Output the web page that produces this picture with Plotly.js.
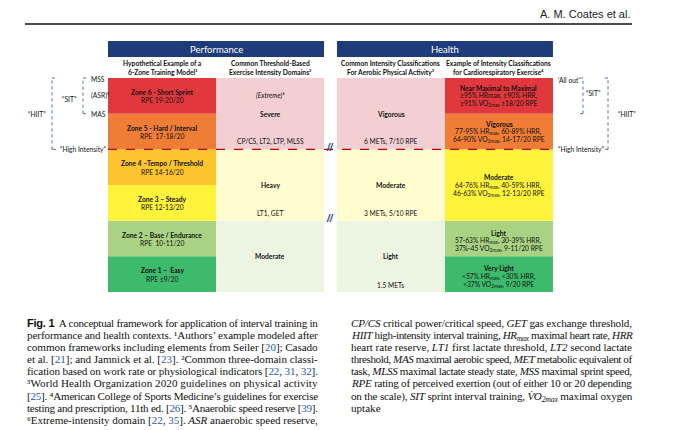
<!DOCTYPE html>
<html><head><meta charset="utf-8">
<script src="https://cdn.plot.ly/plotly-3.0.1.min.js"></script>
<style>html,body{margin:0;padding:0;background:#fff}#chart{width:680px;height:430px}</style>
</head><body><div id="chart"></div>
<script>
// ---------- DATA (zone units, bottom = 0, top = 6) ----------
const zoneTitles = ["Zone 1 –  Easy","Zone 2 – Base / Endurance","Zone 3 – Steady","Zone 4 –Tempo / Threshold","Zone 5 - Hard / Interval","Zone 6 - Short Sprint"];
const zoneRPE = ["RPE ≤9/20","RPE  10-11/20","RPE 12-13/20","RPE 14-16/20","RPE  17-18/20","RPE 19-20/20"];
const zoneLower = [0,1,2,3,4,5];
const zoneUpper = [1,2,3,4,5,6];

const domainNames = ["Moderate","Heavy","Severe"];
const domainLower = [0,2,4];
const domainUpper = [2,4,6];
const domainThresholds = ["","LT1, GET","CP/CS, LT2, LTP, MLSS"];
const extremeLabel = "(Extreme)⁶";
const extremeLevel = 5.5;

const whoNames = ["Light","Moderate","Vigorous"];
const whoLower = [0,2,4];
const whoUpper = [2,4,6];
const whoThresholds = ["1.5 METs","3 METs, 5/10 RPE","6 METs, 7/10 RPE"];

const acsmNames = ["Very Light","Light","Moderate","Vigorous","Near Maximal to Maximal"];
const acsmLower = [0,1,2,4,5];
const acsmUpper = [1,2,4,5,6];
const acsmLine1 = ["<57% HR<sub>max</sub>, <30% HRR,","57-63% HR<sub>max</sub>, 30-39% HRR,","64-76% HR<sub>max</sub>, 40-59% HRR,","77-95% HR<sub>max</sub>, 60-89% HRR,","≥95% HRmax, ≥90% HRR,"];
const acsmLine2 = ["<37% VO<sub>2max</sub>, 9/20 RPE","37%-45 VO<sub>2max</sub>, 9-11/20 RPE","46-63% VO<sub>2max</sub>, 12-13/20 RPE","64-90% VO<sub>2max</sub>, 14-17/20 RPE","≥91% VO<sub>2max</sub> ≥18/20 RPE"];

const highIntensityLevel = 4;
const gapMarkLevels = [4,2];
const sitRange = [5,6];
const hiitRange = [4,6];
const speedMarkers = ["MSS","(ASR)⁵","MAS"];
const speedLevels = [6,5.5,5];

const sectionTitles = ["Performance","Health"];
const columnHeads1 = ["Hypothetical Example of a","Common Threshold-Based","Common Intensity Classifications","Example of Intensity Classifications"];
const columnHeads2 = ["6-Zone Training Model¹","Exercise Intensity Domains²","For Aerobic Physical Activity³","for Cardiorespiratory Exercise⁴"];

const REF = '<span style="color:#2f55b8">';
const captionLeft = [
 '<b><span style="font-family:Liberation Sans,Arial,sans-serif">Fig. 1</span></b>  A conceptual framework for application of interval training in',
 'performance and health contexts. ¹Authors’ example modeled after',
 'common frameworks including elements from Seiler ['+REF+'20</span>]; Casado',
 'et al. ['+REF+'21</span>]; and Jamnick et al. ['+REF+'23</span>]. ²Common three-domain classi-',
 'fication based on work rate or physiological indicators ['+REF+'22</span>, '+REF+'31</span>, '+REF+'32</span>].',
 '³World Health Organization 2020 guidelines on physical activity',
 '['+REF+'25</span>]. ⁴American College of Sports Medicine’s guidelines for exercise',
 'testing and prescription, 11th ed. ['+REF+'26</span>]. ⁵Anaerobic speed reserve ['+REF+'39</span>].',
 '⁶Extreme-intensity domain ['+REF+'22</span>, '+REF+'35</span>]. <i>ASR</i> anaerobic speed reserve,'
];
const captionRight = [
 '<i>CP/CS</i> critical power/critical speed, <i>GET</i> gas exchange threshold,',
 '<i>HIIT</i> high-intensity interval training, <i>HR<sub>max</sub></i> maximal heart rate, <i>HRR</i>',
 'heart rate reserve, <i>LT1</i> first lactate threshold, <i>LT2</i> second lactate',
 'threshold, <i>MAS</i> maximal aerobic speed, <i>MET</i> metabolic equivalent of',
 'task, <i>MLSS</i> maximal lactate steady state, <i>MSS</i> maximal sprint speed,',
 '<i>RPE</i> rating of perceived exertion (out of either 10 or 20 depending',
 'on the scale), <i>SIT</i> sprint interval training, <i>V̇O<sub>2max</sub></i> maximal oxygen',
 'uptake'
];
const runningHead = "A. M. Coates et al.";

// ---------- STYLES ----------
const zoneColors = ["#3dba6c","#a9d383","#fff23a","#fdc430","#ef7d36","#e0383d"];
const domainColors = ["#ecf4e2","#fffcd0","#f3cfd4"];
const whoColors = ["#ecf4e2","#fffcd0","#f3cfd4"];
const acsmColors = ["#3dba6c","#a9d383","#fff23a","#ef7d36","#e0383d"];
const NAVY = "#1f3c7a", BLUE = "#4472c4", DRED = "#c00000";
const F = "Lato, Liberation Sans, sans-serif";
const FS = 6.7;
const SERIF = "Liberation Serif, Times New Roman, serif";
const CAP_FS = 11.1;

// ---------- LAYOUT GEOMETRY ----------
const W = 680, H = 430;
const PX0 = 108, UX = 108;          // column units
const PY0 = 292, UY = 214/6;        // zone units
const colCenter = [0.5, 1.5, 2.62, 3.62];
const colWidth = 1;
const px = v => v / W, py = v => 1 - v / H;

function barTrace(cx, lower, upper, colors) {
  return {type:'bar', x: lower.map(() => cx), base: lower, y: upper.map((u,i) => u - lower[i]),
    width: lower.map(() => colWidth), marker:{color: colors, line:{width:0}},
    hoverinfo:'skip', showlegend:false, orientation:'v'};
}
const data = [
  barTrace(colCenter[0], zoneLower, zoneUpper, zoneColors),
  barTrace(colCenter[1], domainLower, domainUpper, domainColors),
  barTrace(colCenter[2], whoLower, whoUpper, whoColors),
  barTrace(colCenter[3], acsmLower, acsmUpper, acsmColors)
];

function A(x, y, text, o) {
  return Object.assign({x, y, xref:'x', yref:'y', text, showarrow:false,
    font:{family:F, size:FS, color:'#111'}, xanchor:'center', yanchor:'middle'}, o || {});
}
const anns = [];
zoneTitles.forEach((t,i) => {
  const c = (zoneLower[i] + zoneUpper[i]) / 2;
  anns.push(A(colCenter[0], c, '<b>'+t+'</b>', {yshift:4}));
  anns.push(A(colCenter[0], c, zoneRPE[i], {yshift:-4.5}));
});
domainNames.forEach((t,i) => {
  const c = (domainLower[i] + domainUpper[i]) / 2;
  anns.push(A(colCenter[1], c, '<b>'+t+'</b>'));
  if (domainThresholds[i]) anns.push(A(colCenter[1], domainLower[i], domainThresholds[i], {yanchor:'bottom', yshift:1}));
});
anns.push(A(colCenter[1], extremeLevel, '<i>'+extremeLabel+'</i>'));
whoNames.forEach((t,i) => {
  const c = (whoLower[i] + whoUpper[i]) / 2;
  anns.push(A(colCenter[2], c, '<b>'+t+'</b>'));
  anns.push(A(colCenter[2], whoLower[i], whoThresholds[i], {yanchor:'bottom', yshift:1}));
});
acsmNames.forEach((t,i) => {
  const c = (acsmLower[i] + acsmUpper[i]) / 2;
  const s = c < 2 ? -2 : 0;
  anns.push(A(colCenter[3], c, '<b>'+t+'</b>', {yshift:8+s}));
  anns.push(A(colCenter[3], c, acsmLine1[i], {yshift:s}));
  anns.push(A(colCenter[3], c, acsmLine2[i], {yshift:-8+s}));
});
anns.push(A(1.0, 0, sectionTitles[0], {yref:'paper', y:py(49), font:{family:F, size:9.5, color:'#fff'}}));
anns.push(A(3.12, 0, sectionTitles[1], {yref:'paper', y:py(49), font:{family:F, size:9.5, color:'#fff'}}));
columnHeads1.forEach((t,i) => {
  anns.push(A(colCenter[i], 0, '<b>'+t+'</b>', {yref:'paper', y:py(63), font:{family:F, size:6.7, color:'#111'}}));
  anns.push(A(colCenter[i], 0, '<b>'+columnHeads2[i]+'</b>', {yref:'paper', y:py(71.5), font:{family:F, size:6.7, color:'#111'}}));
});
gapMarkLevels.forEach(l => anns.push(A(2.06, l, '<b><i>//</i></b>', {font:{family:'Liberation Sans, sans-serif', size:10, color:NAVY}, yshift:2})));
speedMarkers.forEach((t,i) => anns.push(A(0,speedLevels[i], t, {xref:'paper', x:px(89), xanchor:'left', yshift: i===0 ? -1 : 0})));
anns.push(A(0,(sitRange[0]+sitRange[1])/2, '“SIT”', {xref:'paper', x:px(69), yshift:-3}));
anns.push(A(0,(hiitRange[0]+hiitRange[1])/2, '“HIIT”', {xref:'paper', x:px(37)}));
anns.push(A(0,highIntensityLevel, '“High Intensity”', {xref:'paper', x:px(58), xanchor:'left'}));
anns.push(A(0,sitRange[1], '‘All out’', {xref:'paper', x:px(556), xanchor:'left', yshift:-2}));
anns.push(A(0,(sitRange[0]+sitRange[1])/2, '“SIT”', {xref:'paper', x:px(593), yshift:3}));
anns.push(A(0,(hiitRange[0]+hiitRange[1])/2, '“HIIT”', {xref:'paper', x:px(616), xanchor:'left'}));
anns.push(A(0,highIntensityLevel, '“High Intensity”', {xref:'paper', x:px(556), xanchor:'left'}));
anns.push({xref:'paper', yref:'paper', x:px(632), y:py(14), text:runningHead, showarrow:false,
  xanchor:'right', yanchor:'middle', font:{family:'Liberation Sans, Arial, sans-serif', size:11, color:'#222'}});
const LH = 12.15, TOPOFF = 6.4;
const capStart = anns.length;
captionLeft.forEach((t,i) => anns.push({xref:'paper', yref:'paper', x:px(25), y:py(321 - TOPOFF + i*LH), text:t, showarrow:false,
  xanchor:'left', yanchor:'top', align:'left', font:{family:SERIF, size:CAP_FS, color:'#111'}}));
const capRightStart = anns.length;
captionRight.forEach((t,i) => anns.push({xref:'paper', yref:'paper', x:px(349), y:py(321 - TOPOFF + i*LH), text:t, showarrow:false,
  xanchor:'left', yanchor:'top', align:'left', font:{family:SERIF, size:CAP_FS, color:'#111'}}));

// ---------- SHAPES ----------
const shapes = [];
shapes.push({type:'line', xref:'paper', yref:'paper', x0:px(25), x1:px(632), y0:py(24), y1:py(24), line:{color:'#111', width:1.6}});
shapes.push({type:'rect', xref:'x', yref:'paper', x0:0, x1:2, y0:py(57), y1:py(41), fillcolor:NAVY, line:{width:0}});
shapes.push({type:'rect', xref:'x', yref:'paper', x0:2.12, x1:4.12, y0:py(57), y1:py(41), fillcolor:NAVY, line:{width:0}});
shapes.push({type:'line', xref:'x', yref:'y', x0:0, x1:4.12, y0:highIntensityLevel, y1:highIntensityLevel, line:{color:DRED, width:1.3, dash:'dash'}});
function bracket(xp, y0, y1, tick, extraBottom) {
  const d = {color:BLUE, width:1, dash:'dot'};
  shapes.push({type:'line', xref:'paper', yref:'y', x0:px(xp), x1:px(xp), y0, y1, line:d});
  shapes.push({type:'line', xref:'paper', yref:'y', x0:px(xp), x1:px(xp+tick), y0:y1, y1:y1, line:{color:BLUE, width:1}});
  shapes.push({type:'line', xref:'paper', yref:'y', x0:px(xp), x1:px(xp+tick+(extraBottom||0)), y0:y0, y1:y0, line:{color:BLUE, width:1}});
}
bracket(83, sitRange[0], sitRange[1], 3);
bracket(52, hiitRange[0], hiitRange[1], 3, 1);
bracket(583, sitRange[0], sitRange[1], -3);
bracket(608, hiitRange[0], hiitRange[1], -3);

const layout = {
  width: W, height: H, margin:{l:0,r:0,t:0,b:0}, paper_bgcolor:'#fff', plot_bgcolor:'#fff',
  barmode:'overlay', showlegend:false,
  xaxis:{range:[-PX0/UX, (W-PX0)/UX], domain:[0,1], visible:false, fixedrange:true},
  yaxis:{range:[-(H-PY0)/UY, PY0/UY], domain:[0,1], visible:false, fixedrange:true},
  annotations: anns, shapes: shapes
};
Plotly.newPlot('chart', data, layout, {staticPlot:true, displayModeBar:false}).then(gd => {
  // justify caption lines like the printed caption (letter spacing); revert if the result is off
  function justify(idx, right) {
    const g = gd.querySelector('.annotation[data-index="' + idx + '"]');
    if (!g) return;
    const t = g.querySelector('text.annotation-text');
    if (!t) return;
    const r0 = t.getBoundingClientRect();
    const extra = right - r0.right;
    const n = t.textContent.length;
    if (n < 2 || Math.abs(extra) < 0.5 || extra < -40 || extra > 40) return;
    t.style.letterSpacing = (extra / n) + 'px';
    const r1 = t.getBoundingClientRect();
    if (Math.abs(r1.right - right) > 5 || Math.abs(r1.left - r0.left) > 2) t.style.letterSpacing = '';
  }
  for (let i = 0; i < captionLeft.length; i++) justify(capStart + i, 318);
  for (let i = 0; i < captionRight.length - 1; i++) justify(capRightStart + i, 632);
});
</script></body></html>
